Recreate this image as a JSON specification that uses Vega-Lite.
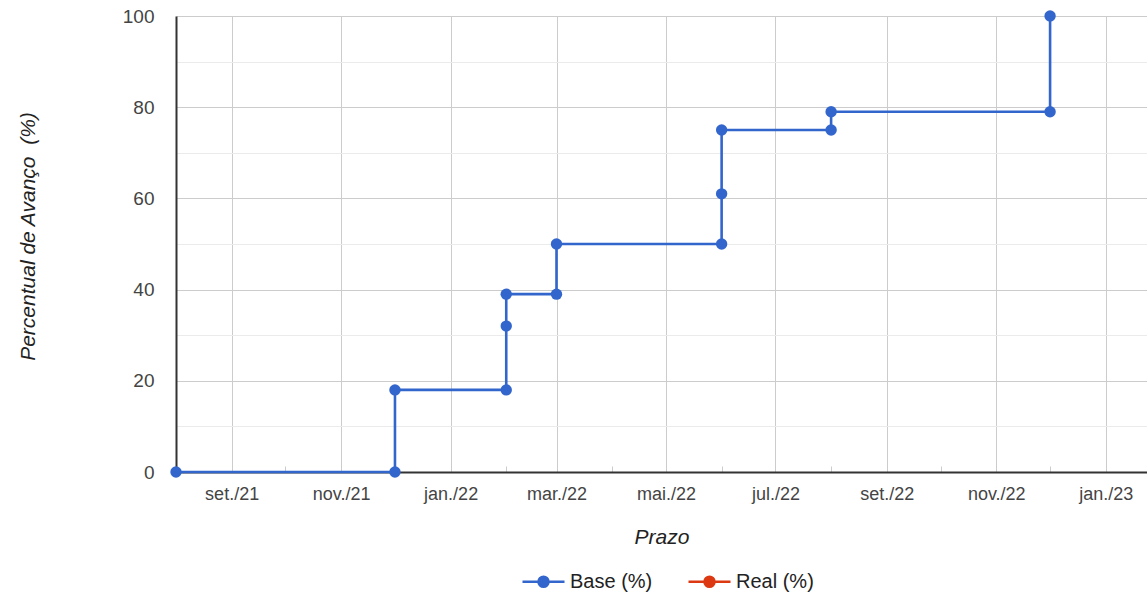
{
  "$schema": "https://vega.github.io/schema/vega-lite/v6.json",
  "autosize": "none",
  "width": 971,
  "height": 456,
  "padding": {"left": 176, "top": 16, "right": 0, "bottom": 124},
  "background": "white",
  "config": {
    "view": {"stroke": null},
    "font": "Liberation Sans"
  },
  "data": {
    "values": [
      {"seq": 1, "serie": "Base (%)", "prazo": "2021-08-01", "avanco": 0},
      {"seq": 2, "serie": "Base (%)", "prazo": "2021-12-01", "avanco": 0},
      {"seq": 3, "serie": "Base (%)", "prazo": "2021-12-01", "avanco": 18},
      {"seq": 4, "serie": "Base (%)", "prazo": "2022-02-01", "avanco": 18},
      {"seq": 5, "serie": "Base (%)", "prazo": "2022-02-01", "avanco": 32},
      {"seq": 6, "serie": "Base (%)", "prazo": "2022-02-01", "avanco": 39},
      {"seq": 7, "serie": "Base (%)", "prazo": "2022-03-01", "avanco": 39},
      {"seq": 8, "serie": "Base (%)", "prazo": "2022-03-01", "avanco": 50},
      {"seq": 9, "serie": "Base (%)", "prazo": "2022-06-01", "avanco": 50},
      {"seq": 10, "serie": "Base (%)", "prazo": "2022-06-01", "avanco": 61},
      {"seq": 11, "serie": "Base (%)", "prazo": "2022-06-01", "avanco": 75},
      {"seq": 12, "serie": "Base (%)", "prazo": "2022-08-01", "avanco": 75},
      {"seq": 13, "serie": "Base (%)", "prazo": "2022-08-01", "avanco": 79},
      {"seq": 14, "serie": "Base (%)", "prazo": "2022-12-01", "avanco": 79},
      {"seq": 15, "serie": "Base (%)", "prazo": "2022-12-01", "avanco": 100}
    ]
  },
  "mark": {"type": "line", "strokeWidth": 2.6, "point": {"filled": true, "size": 130, "opacity": 1}},
  "encoding": {
    "x": {
      "field": "prazo",
      "type": "temporal",
      "title": "Prazo",
      "scale": {
        "type": "utc",
        "domain": [
          {"year": 2021, "month": 8, "date": 1, "utc": true},
          {"year": 2023, "month": 1, "date": 24, "utc": true}
        ]
      },
      "axis": {
        "values": [
          {"year": 2021, "month": 9, "date": 1, "utc": true},
          {"year": 2021, "month": 10, "date": 1, "utc": true},
          {"year": 2021, "month": 11, "date": 1, "utc": true},
          {"year": 2021, "month": 12, "date": 1, "utc": true},
          {"year": 2022, "month": 1, "date": 1, "utc": true},
          {"year": 2022, "month": 2, "date": 1, "utc": true},
          {"year": 2022, "month": 3, "date": 1, "utc": true},
          {"year": 2022, "month": 4, "date": 1, "utc": true},
          {"year": 2022, "month": 5, "date": 1, "utc": true},
          {"year": 2022, "month": 6, "date": 1, "utc": true},
          {"year": 2022, "month": 7, "date": 1, "utc": true},
          {"year": 2022, "month": 8, "date": 1, "utc": true},
          {"year": 2022, "month": 9, "date": 1, "utc": true},
          {"year": 2022, "month": 10, "date": 1, "utc": true},
          {"year": 2022, "month": 11, "date": 1, "utc": true},
          {"year": 2022, "month": 12, "date": 1, "utc": true},
          {"year": 2023, "month": 1, "date": 1, "utc": true}
        ],
        "labelExpr": "utcmonth(datum.value) % 2 == 0 ? ['jan.','fev.','mar.','abr.','mai.','jun.','jul.','ago.','set.','out.','nov.','dez.'][utcmonth(datum.value)] + '/' + utcFormat(datum.value, '%y') : ''",
        "labelFontSize": 18,
        "labelColor": "#444444",
        "labelPadding": 19,
        "labelOverlap": false,
        "labelFlush": false,
        "ticks": true,
        "tickSize": -6,
        "tickColor": {"condition": {"test": "utcmonth(datum.value) % 2 == 1", "value": "#cccccc"}, "value": "transparent"},
        "grid": true,
        "gridColor": {"condition": {"test": "utcmonth(datum.value) % 2 == 0", "value": "#cccccc"}, "value": "transparent"},
        "gridWidth": 1,
        "domainColor": "#333333",
        "domainWidth": 2,
        "title": "Prazo",
        "titleFontSize": 21,
        "titleFontStyle": "italic",
        "titleFontWeight": "normal",
        "titleColor": "#222222",
        "titlePadding": 23
      }
    },
    "y": {
      "field": "avanco",
      "type": "quantitative",
      "scale": {"domain": [0, 100], "nice": false},
      "axis": {
        "values": [0, 10, 20, 30, 40, 50, 60, 70, 80, 90, 100],
        "labelExpr": "datum.value % 20 == 0 ? datum.label : ''",
        "labelFontSize": 19,
        "labelColor": "#444444",
        "labelPadding": 22,
        "ticks": false,
        "grid": true,
        "gridColor": {"condition": {"test": "datum.value % 20 == 0", "value": "#cccccc"}, "value": "#ebebeb"},
        "domainColor": "#333333",
        "domainWidth": 2,
        "title": "Percentual de Avanço\u00a0 (%)",
        "titleFontSize": 21,
        "titleFontStyle": "italic",
        "titleFontWeight": "normal",
        "titleColor": "#222222",
        "titlePadding": 84,
        "titleY": 220
      }
    },
    "color": {
      "field": "serie",
      "type": "nominal",
      "scale": {"domain": ["Base (%)", "Real (%)"], "range": ["#3366cc", "#dc3912"]},
      "legend": {
        "title": null,
        "orient": "none",
        "direction": "horizontal",
        "legendX": 345,
        "legendY": 543,
        "symbolType": "M-1,0H1M0.24,0A0.24,0.24 0 1,1 -0.24,0A0.24,0.24 0 1,1 0.24,0",
        "symbolSize": 1764,
        "symbolStrokeWidth": 2.5,
        "symbolOpacity": 1,
        "labelFontSize": 20,
        "labelColor": "#222222",
        "labelOffset": 4,
        "columnPadding": 30
      }
    },
    "order": {"field": "seq", "type": "quantitative"}
  }
}
